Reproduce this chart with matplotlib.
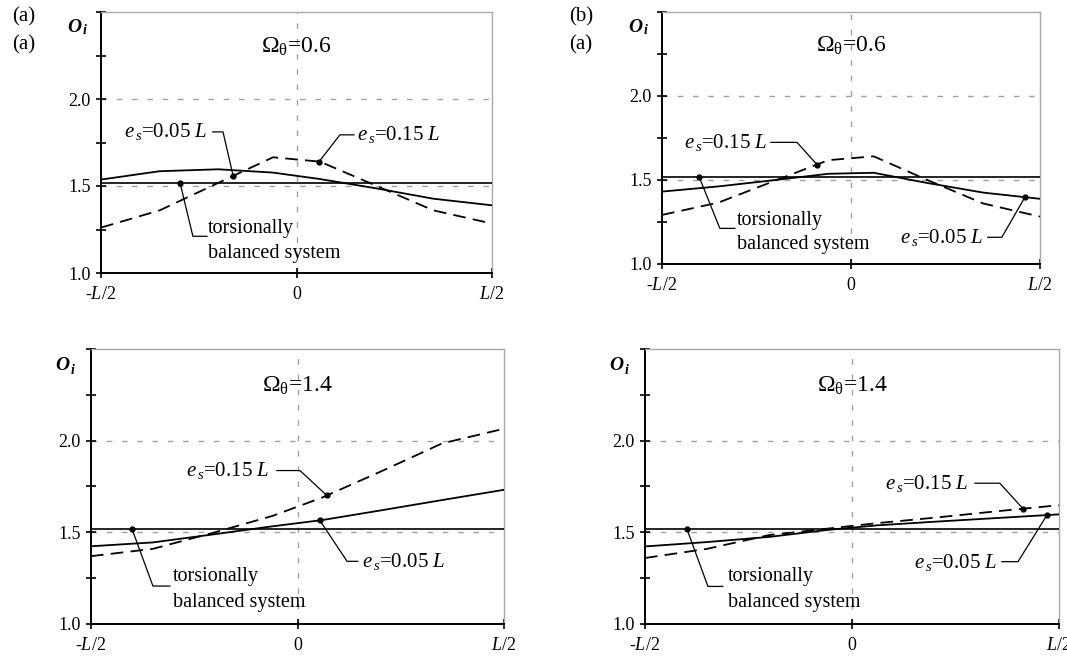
import numpy as np
import matplotlib.pyplot as plt

plt.rcParams['font.family'] = ['Liberation Serif', 'DejaVu Serif']
plt.rcParams['mathtext.fontset'] = 'custom'
plt.rcParams['mathtext.rm'] = 'Liberation Serif'
plt.rcParams['mathtext.it'] = 'Liberation Serif:italic'
plt.rcParams['mathtext.bf'] = 'Liberation Serif:bold'

# positions along the deck, in units of L
x_pos = [-0.5, -0.35, -0.2, -0.06, 0.06, 0.2, 0.35, 0.5]

# torsionally balanced system level
tb_level = 1.52

# (a) Omega=0.6
a06_e05 = [1.537, 1.585, 1.596, 1.577, 1.540, 1.488, 1.427, 1.389]
a06_e15 = [1.261, 1.360, 1.518, 1.665, 1.640, 1.505, 1.360, 1.284]
# (b) Omega=0.6
b06_e05 = [1.431, 1.462, 1.500, 1.537, 1.543, 1.483, 1.425, 1.388]
b06_e15 = [1.292, 1.366, 1.497, 1.618, 1.641, 1.502, 1.360, 1.282]
# (a) Omega=1.4
a14_e05 = [1.424, 1.445, 1.490, 1.533, 1.567, 1.619, 1.676, 1.732]
a14_e15 = [1.370, 1.410, 1.500, 1.590, 1.690, 1.830, 1.985, 2.065]
# (b) Omega=1.4
b14_e05 = [1.423, 1.447, 1.475, 1.513, 1.538, 1.558, 1.578, 1.598]
b14_e15 = [1.360, 1.410, 1.485, 1.520, 1.550, 1.580, 1.615, 1.648]

y_ticks = [1.0, 1.25, 1.5, 1.75, 2.0, 2.25, 2.5]
y_ticklabels = ['1.0', '', '1.5', '', '2.0', '', '']
x_ticks = [-0.5, 0.0, 0.5]
x_ticklabels = ['-$L$/2', '0', '$L$/2']

W, H = 1067, 664
fig = plt.figure(figsize=(W / 100, H / 100), dpi=100)


def rect(left, top, right, bottom):
    return [left / W, (H - bottom) / H, (right - left) / W, (bottom - top) / H]


def base(r, omega):
    ax = fig.add_axes(r)
    ax.set_xlim(-0.5, 0.5)
    ax.set_ylim(1.0, 2.5)
    ax.set_yticks(y_ticks)
    ax.set_yticklabels(y_ticklabels)
    ax.set_xticks(x_ticks)
    ax.set_xticklabels(x_ticklabels)
    ax.tick_params(direction='inout', length=7, width=1.2, labelsize=13, pad=4)
    ax.tick_params(axis='x', pad=6)
    for s in ['left', 'bottom']:
        ax.spines[s].set_linewidth(1.4)
    for s in ['top', 'right']:
        ax.spines[s].set_color('#a8a8a8')
        ax.spines[s].set_linewidth(1.0)
    for g in [1.5, 2.0]:
        ax.axhline(g, color='#a0a0a0', lw=1.0, ls=(0, (4, 7)), zorder=1)
    ax.axvline(0, color='#a0a0a0', lw=1.0, ls=(0, (4, 7)), zorder=1)
    ax.text(0, 2.30, r'$\Omega_{\mathrm{\theta}}$=' + omega, ha='center', va='center', fontsize=17)
    return ax


def curves(ax, e05, e15):
    ax.plot(x_pos, e05, color='black', lw=1.3, zorder=3)
    ax.plot(x_pos, e15, color='black', lw=1.3, ls=(0, (7, 4)), zorder=3)
    ax.axhline(tb_level, color='black', lw=1.2, zorder=3)


def leader(ax, pts, dot_x, dot_y):
    xs = [p[0] for p in pts] + [dot_x]
    ys = [p[1] for p in pts] + [dot_y]
    ax.plot(xs, ys, color='black', lw=0.9, zorder=4)
    ax.plot([dot_x], [dot_y], 'o', color='black', ms=3.5, zorder=5)


def es_label(ax, x, y, val, ha):
    ax.text(x, y, r'$e_{\,s}$=' + val + r' $L$', ha=ha, va='center', fontsize=15)


def tb_label(ax, x, y1, y2):
    ax.text(x, y1, 'torsionally', ha='left', va='center', fontsize=14.5)
    ax.text(x, y2, 'balanced system', ha='left', va='center', fontsize=14.5)


def oi_label(px, py):
    fig.text(px / W, 1 - py / H, 'O', fontsize=14, fontweight='bold', style='italic',
             ha='left', va='center')
    fig.text((px + 16) / W, 1 - (py + 4) / H, 'i', fontsize=10, fontweight='bold', style='italic',
             ha='left', va='center')


# ---- top left
ax = base(rect(101, 12, 492, 273), '0.6')
curves(ax, a06_e05, a06_e15)
es_label(ax, -0.228, 1.811, '0.05', 'right')
leader(ax, [(-0.214, 1.811), (-0.188, 1.811)], -0.162, np.interp(-0.162, x_pos, a06_e15))
es_label(ax, 0.155, 1.794, '0.15', 'left')
leader(ax, [(0.147, 1.794), (0.111, 1.794)], 0.058, np.interp(0.058, x_pos, a06_e15))
tb_label(ax, -0.226, 1.257, 1.114)
leader(ax, [(-0.229, 1.211), (-0.265, 1.211)], -0.298, tb_level)

# ---- top right
ax = base(rect(662, 12, 1040, 264), '0.6')
curves(ax, b06_e05, b06_e15)
es_label(ax, -0.220, 1.724, '0.15', 'right')
leader(ax, [(-0.212, 1.724), (-0.143, 1.724)], -0.090, np.interp(-0.090, x_pos, b06_e15))
es_label(ax, 0.349, 1.159, '0.05', 'right')
leader(ax, [(0.362, 1.159), (0.399, 1.159)], 0.460, np.interp(0.460, x_pos, b06_e05))
tb_label(ax, -0.302, 1.259, 1.118)
leader(ax, [(-0.307, 1.212), (-0.347, 1.212)], -0.402, tb_level)

# ---- bottom left
ax = base(rect(91, 349, 504, 624), '1.4')
curves(ax, a14_e05, a14_e15)
es_label(ax, -0.067, 1.837, '0.15', 'right')
leader(ax, [(-0.050, 1.837), (0.006, 1.837)], 0.071, np.interp(0.071, x_pos, a14_e15))
es_label(ax, 0.156, 1.342, '0.05', 'left')
leader(ax, [(0.146, 1.342), (0.120, 1.342)], 0.054, np.interp(0.054, x_pos, a14_e05))
tb_label(ax, -0.301, 1.261, 1.120)
leader(ax, [(-0.309, 1.207), (-0.350, 1.207)], -0.401, tb_level)

# ---- bottom right
ax = base(rect(645, 349, 1059, 624), '1.4')
curves(ax, b14_e05, b14_e15)
es_label(ax, 0.280, 1.768, '0.15', 'right')
leader(ax, [(0.297, 1.768), (0.357, 1.768)], 0.413, np.interp(0.413, x_pos, b14_e15))
es_label(ax, 0.350, 1.335, '0.05', 'right')
leader(ax, [(0.362, 1.340), (0.401, 1.340)], 0.471, np.interp(0.471, x_pos, b14_e05))
tb_label(ax, -0.300, 1.259, 1.119)
leader(ax, [(-0.312, 1.205), (-0.348, 1.205)], -0.399, tb_level)

oi_label(67, 27)
oi_label(628, 27)
oi_label(55, 366)
oi_label(609, 366)

fig.text(12 / W, 1 - 17 / H, '(a)', fontsize=15, ha='left', va='center')
fig.text(12 / W, 1 - 45 / H, '(a)', fontsize=15, ha='left', va='center')
fig.text(569 / W, 1 - 17 / H, '(b)', fontsize=15, ha='left', va='center')
fig.text(569 / W, 1 - 45 / H, '(a)', fontsize=15, ha='left', va='center')

plt.savefig('out.png', dpi=100)
